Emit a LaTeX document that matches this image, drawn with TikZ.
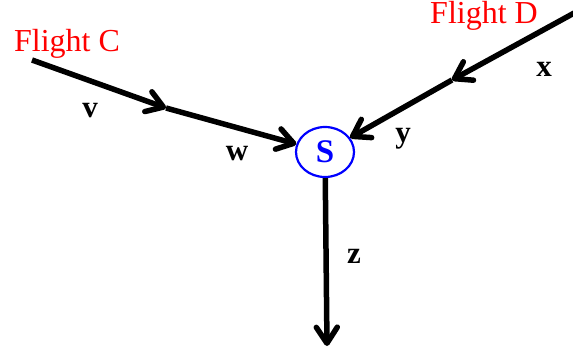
\documentclass[tikz,border=0pt]{standalone}
\usepackage{fontspec}
\setmainfont{Liberation Serif}
\usetikzlibrary{arrows.meta,shapes.geometric}
\begin{document}
\begin{tikzpicture}[x=1pt,y=-1pt,
  flow/.style={line width=5.5pt,-{Straight Barb[length=16pt,width=21pt,line width=5.5pt,round]}},
  flighttext/.style={text=red,font=\fontsize{32}{32}\selectfont,inner sep=0pt},
  lab/.style={font=\fontsize{31}{31}\selectfont\bfseries,inner sep=0pt},
  station/.style={draw=blue,line width=2.2pt,ellipse,minimum width=58pt,minimum height=50pt,inner sep=0pt,text=blue,font=\fontsize{33}{33}\selectfont\bfseries}]
\useasboundingbox (0,0) rectangle (573,351);
\node[station] (s) at (325,152) {S};
\node[flighttext] (fc) at (67,44) {Flight C};
\node[flighttext] (fd) at (484,16) {Flight D};
\coordinate (c0) at (32,60);
\coordinate (cm) at (166,108);
\coordinate (d0) at (576,12);
\coordinate (dm) at (452,80);
\coordinate (out) at (327,346);
\draw[flow] (c0) -- (cm);
\draw[flow] (cm) -- (s);
\draw[flow] (d0) -- (dm);
\draw[flow] (dm) -- (s);
\draw[flow] (s) -- (out);
\node[lab] (v) at (90,111) {v};
\node[lab] (w) at (237,154) {w};
\node[lab] (x) at (544,69) {x};
\node[lab] (y) at (403,139) {y};
\node[lab] (z) at (354,256) {z};
\end{tikzpicture}
\end{document}
